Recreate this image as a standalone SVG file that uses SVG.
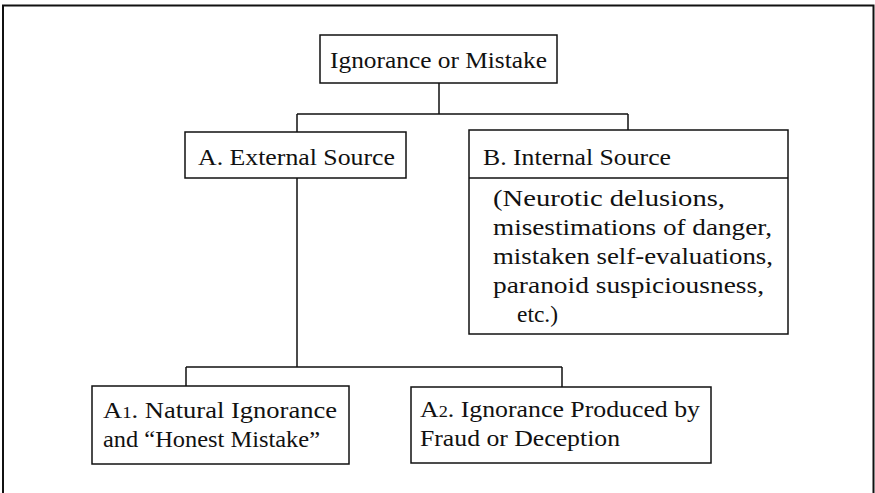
<svg xmlns="http://www.w3.org/2000/svg" width="875" height="493" viewBox="0 0 875 493">
  <style>
    .box { fill: #ffffff; stroke: #111111; stroke-width: 1.5; }
    .rule { fill: none; stroke: #111111; stroke-width: 1.5; }
    .frame { fill: none; stroke: #111111; stroke-width: 2; }
    text { font-family: "Liberation Serif", "DejaVu Serif", serif; font-size: 24px; fill: #111111; }
    .num { font-size: 17px; }
  </style>

  <rect x="0" y="0" width="875" height="493" fill="#ffffff"/>

  <!-- page frame, open at the bottom -->
  <path class="frame" d="M3,493 V5.5 H873.5 V493"/>

  <!-- tree connectors -->
  <g id="connectors">
    <path class="rule" d="M439,83 V114 M297,114 H628 M297,114 V132 M628,114 V130"/>
    <path class="rule" d="M297,178 V367 M186,367 H562 M186,367 V386 M562,367 V387"/>
  </g>

  <g id="root">
    <rect class="box" x="320" y="35" width="237" height="48"/>
    <text x="330" y="68" textLength="217" lengthAdjust="spacingAndGlyphs">Ignorance or Mistake</text>
  </g>

  <g id="external">
    <rect class="box" x="185" y="132" width="221" height="46"/>
    <text x="198" y="165" textLength="197" lengthAdjust="spacingAndGlyphs">A. External Source</text>
  </g>

  <g id="internal">
    <rect class="box" x="469" y="130" width="319" height="204"/>
    <line class="rule" x1="469" y1="178" x2="788" y2="178"/>
    <text x="483" y="165" textLength="188" lengthAdjust="spacingAndGlyphs">B. Internal Source</text>
    <text x="493" y="206" textLength="232" lengthAdjust="spacingAndGlyphs">(Neurotic delusions,</text>
    <text x="493" y="235" textLength="279" lengthAdjust="spacingAndGlyphs">misestimations of danger,</text>
    <text x="493" y="264" textLength="280" lengthAdjust="spacingAndGlyphs">mistaken self-evaluations,</text>
    <text x="493" y="293" textLength="271" lengthAdjust="spacingAndGlyphs">paranoid suspiciousness,</text>
    <text x="517" y="322" textLength="41" lengthAdjust="spacingAndGlyphs">etc.)</text>
  </g>

  <g id="natural">
    <rect class="box" x="92" y="386" width="257" height="78"/>
    <text x="103" y="418" textLength="234" lengthAdjust="spacingAndGlyphs">A<tspan class="num">1</tspan>. Natural Ignorance</text>
    <text x="103" y="447" textLength="217" lengthAdjust="spacingAndGlyphs">and “Honest Mistake”</text>
  </g>

  <g id="fraud">
    <rect class="box" x="411" y="387" width="300" height="76"/>
    <text x="420" y="417" textLength="280" lengthAdjust="spacingAndGlyphs">A<tspan class="num">2</tspan>. Ignorance Produced by</text>
    <text x="420" y="446" textLength="200" lengthAdjust="spacingAndGlyphs">Fraud or Deception</text>
  </g>
</svg>
